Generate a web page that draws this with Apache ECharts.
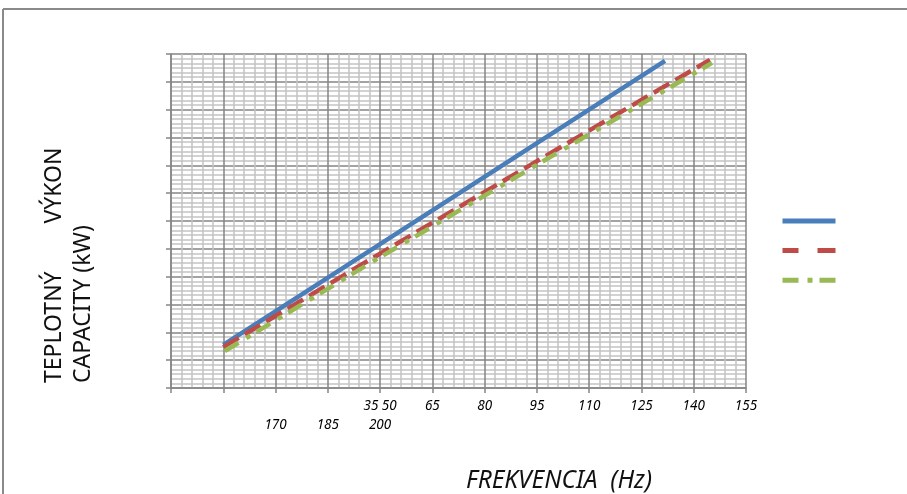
<!DOCTYPE html>
<html>
<head>
<meta charset="utf-8">
<script src="https://cdn.jsdelivr.net/npm/echarts@6/dist/echarts.min.js"></script>
<style>
  html, body { margin: 0; padding: 0; background: #fff; }
  #chart { width: 907px; height: 494px; }
</style>
</head>
<body>
<div id="chart"></div>
<script>
// tick labels along the x axis (two rows, as printed in the original)
const tickTop = ['', '', '', '', '35 50', '65', '80', '95', '110', '125', '140', '155'];
const tickBottom = ['', '', '170', '185', '200', '', '', '', '', '', '', ''];

// series, x in tick steps, y in grid steps
const seriesNames = ['A', 'B', 'C'];
const blueLine = [[1, 1.55], [4, 5.17], [7, 8.8], [9.45, 11.75]];
const redLine = [[1, 1.47], [4, 4.83], [7, 8.15], [10.31, 11.79]];
const greenLine = [[1.03, 1.33], [4, 4.7], [7, 8.02], [10.35, 11.68]];

const chart = echarts.init(document.getElementById('chart'));

const blank = (s) => (s === '' ? '\u00a0' : s);

chart.setOption({
  animation: false,
  grid: { left: 171, right: 161, top: 54, bottom: 106 },
  legend: {
    orient: 'vertical',
    left: 775,
    top: 209,
    itemWidth: 53,
    itemHeight: 14,
    itemGap: 17,
    formatter: () => '',
    textStyle: { fontSize: 1 },
    itemStyle: { opacity: 0 },
    data: [
      { name: seriesNames[0], lineStyle: { width: 5 } },
      { name: seriesNames[1], lineStyle: { width: 5, type: [16, 19, 18, 100] } },
      { name: seriesNames[2], lineStyle: { width: 5, type: [16, 9, 5, 7, 16, 100] } },
    ],
  },
  xAxis: {
    type: 'value',
    min: 0,
    max: 11,
    interval: 1,
    axisLine: { show: true, onZero: false, lineStyle: { color: '#868686', width: 1.5 } },
    axisTick: { show: true, length: 5, lineStyle: { color: '#868686', width: 1.5 } },
    axisLabel: {
      margin: 9,
      formatter(v) {
        const i = Math.round(v);
        return `{t|${blank(tickTop[i])}}\n{b|${blank(tickBottom[i])}}`;
      },
      rich: {
        t: { fontFamily: 'Noto Sans', fontStyle: 'italic', fontSize: 13.5, lineHeight: 19, color: '#000' },
        b: { fontFamily: 'Noto Sans', fontStyle: 'italic', fontSize: 13.5, lineHeight: 19, color: '#000' },
      },
    },
    splitLine: { show: true, lineStyle: { color: '#858585', width: 1.5 } },
    minorTick: { show: false, splitNumber: 5 },
    minorSplitLine: { show: true, lineStyle: { color: '#c4c4c4', width: 1.5 } },
  },
  yAxis: {
    type: 'value',
    min: 0,
    max: 12,
    interval: 1,
    axisLine: { show: true, lineStyle: { color: '#868686', width: 1.5 } },
    axisTick: { show: true, length: 5, lineStyle: { color: '#868686', width: 1.5 } },
    axisLabel: { show: false },
    splitLine: { show: true, lineStyle: { color: '#858585', width: 1.5 } },
    minorTick: { show: false, splitNumber: 6 },
    minorSplitLine: { show: true, lineStyle: { color: '#c4c4c4', width: 1.5 } },
  },
  series: [
    {
      name: seriesNames[0],
      type: 'line',
      data: blueLine,
      symbol: 'none',
      color: '#4a7ebb',
      lineStyle: { width: 4.5, cap: 'butt' },
    },
    {
      name: seriesNames[1],
      type: 'line',
      data: redLine,
      symbol: 'none',
      color: '#be4b48',
      lineStyle: { width: 4.5, type: [18, 7], cap: 'butt' },
    },
    {
      name: seriesNames[2],
      type: 'line',
      data: greenLine,
      symbol: 'none',
      color: '#98b954',
      lineStyle: { width: 4.5, type: [16, 9, 5, 7], cap: 'butt' },
    },
  ],
  graphic: [
    // outer frame (top and left edge only)
    { type: 'line', shape: { x1: 3, y1: 9, x2: 907, y2: 9 }, style: { stroke: '#8a8a8a', lineWidth: 2 } },
    { type: 'line', shape: { x1: 3, y1: 9, x2: 3, y2: 494 }, style: { stroke: '#8a8a8a', lineWidth: 2 } },
    {
      type: 'text',
      x: 40,
      y: 383,
      rotation: Math.PI / 2,
      style: {
        text: 'TEPLOTNÝ        VÝKON\nCAPACITY (kW)',
        fontFamily: 'Noto Sans',
        fontSize: 23,
        lineHeight: 29,
        fill: '#111',
        textAlign: 'left',
        textVerticalAlign: 'top',
      },
    },
    {
      type: 'text',
      x: 466,
      y: 481,
      style: {
        text: 'FREKVENCIA  (Hz)',
        fontFamily: 'Noto Sans',
        fontStyle: 'italic',
        fontSize: 24.5,
        fill: '#111',
        textAlign: 'left',
        textVerticalAlign: 'middle',
      },
    },
  ],
});
</script>
</body>
</html>
